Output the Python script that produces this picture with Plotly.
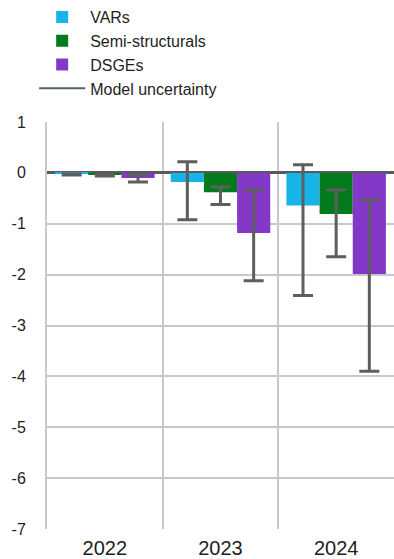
import plotly.graph_objects as go

years = ["2022", "2023", "2024"]
series_names = ["VARs", "Semi-structurals", "DSGEs"]
vars_vals = [-0.02, -0.18, -0.64]
semi_vals = [-0.04, -0.38, -0.81]
dsge_vals = [-0.10, -1.18, -1.99]

vars_hi = [-0.02, 0.22, 0.16]
vars_lo = [-0.04, -0.92, -2.41]
semi_hi = [-0.03, -0.28, -0.33]
semi_lo = [-0.06, -0.62, -1.65]
dsge_hi = [-0.04, -0.33, -0.53]
dsge_lo = [-0.18, -2.12, -3.90]

y_tickvals = [1, 0, -1, -2, -3, -4, -5, -6, -7]
y_ticktext = ["1", "0", "-1", "-2", "-3", "-4", "-5", "-6", "-7"]

colors = ["#17B4EA", "#037A1B", "#8338C8"]
err_color = "#5E5E5E"

fig = go.Figure()
for name, vals, hi, lo, col in [
    (series_names[0], vars_vals, vars_hi, vars_lo, colors[0]),
    (series_names[1], semi_vals, semi_hi, semi_lo, colors[1]),
    (series_names[2], dsge_vals, dsge_hi, dsge_lo, colors[2]),
]:
    fig.add_trace(go.Bar(
        x=years, y=vals, name=name, marker=dict(color=col, line=dict(width=0)),
        error_y=dict(type="data", symmetric=False,
                     array=[h - v for h, v in zip(hi, vals)],
                     arrayminus=[v - l for l, v in zip(lo, vals)],
                     color=err_color, thickness=3, width=10),
    ))

fig.add_trace(go.Scatter(
    x=[None], y=[None], mode="lines", name="Model uncertainty",
    line=dict(color="#56606A", width=2),
))

fig.update_layout(
    width=394, height=559,
    margin=dict(l=47, r=0, t=122, b=30, autoexpand=False),
    paper_bgcolor="white", plot_bgcolor="white",
    barmode="group", bargap=0.14, bargroupgap=0,
    font=dict(family="Liberation Sans", size=16, color="#1E1E1E"),
    legend=dict(x=-0.037, y=1.2998, xanchor="left", yanchor="top",
                font=dict(family="Liberation Sans", size=16, color="#1E1E1E"),
                tracegroupgap=0, itemwidth=46, bgcolor="rgba(0,0,0,0)"),
    showlegend=True,
)
fig.update_xaxes(
    type="category", tickson="boundaries", showgrid=True,
    gridcolor="#C8C8C8", gridwidth=1.5, ticks="", showline=False,
    tickfont=dict(size=20), range=[-0.5, 2.5], ticklabelstandoff=5,
)
fig.update_yaxes(
    range=[-7, 1], tickvals=y_tickvals, ticktext=y_ticktext,
    showgrid=True, gridcolor="#C8C8C8", gridwidth=1.5,
    zeroline=True, zerolinecolor="#5A5A5A", zerolinewidth=2.5,
    showline=True, linecolor="#C8C8C8", linewidth=2,
    ticks="", tickfont=dict(size=16), ticklabelstandoff=16,
)

fig.write_html("out.html", config={"displayModeBar": False},
               post_script="document.body.style.margin='0';")
